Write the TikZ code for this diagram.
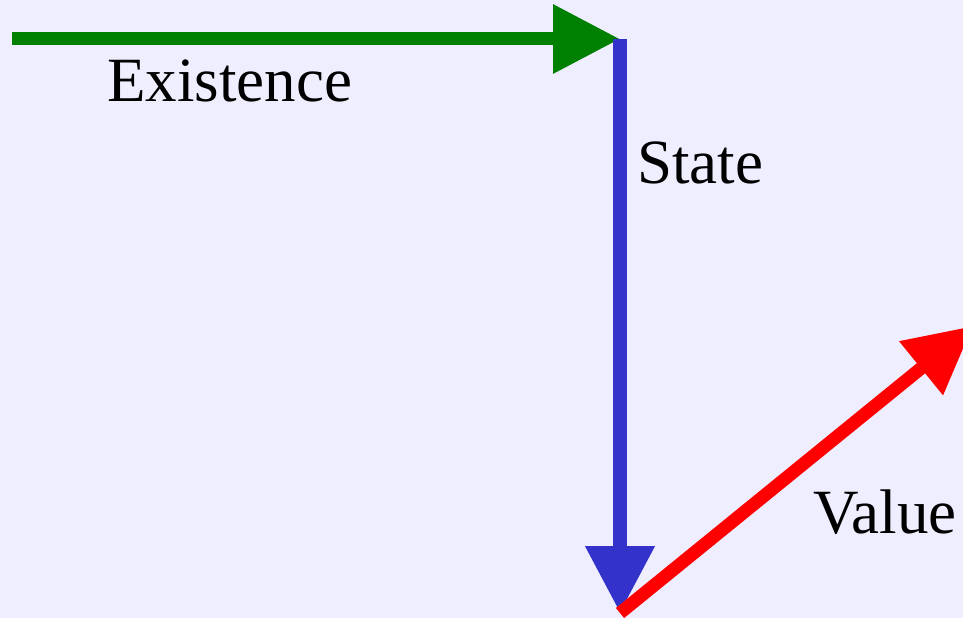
\documentclass[tikz,border=0pt]{standalone}
\usepackage{fontspec}
\setmainfont{Liberation Serif}
\usetikzlibrary{arrows.meta}

\definecolor{paper}{HTML}{EEEEFF}
\definecolor{existgreen}{HTML}{008000}
\definecolor{stateblue}{HTML}{3333CC}
\definecolor{valuered}{HTML}{FF0000}

\tikzset{
    axis/.style={line width=13pt, line cap=butt, -{Triangle[length=67pt, width=66pt]}},
    lbl/.style={anchor=base west, inner sep=0pt, font=\fontsize{63}{75}\selectfont}
}

\begin{document}
\begin{tikzpicture}[x=1pt, y=-1pt]
    % Canvas
    \useasboundingbox (0,0) rectangle (963,618);
    \fill[paper] (0,0) rectangle (963,618);
    \clip (0,0) rectangle (963,618);

    % Corner points of the path
    \coordinate (start) at (12,39);
    \coordinate (corner) at (620,39);
    \coordinate (bottom) at (620,613);
    \coordinate (tip) at (973,326);

    % Existence -> State -> Value
    \draw[axis, existgreen] (start) -- (corner);
    \draw[axis, stateblue, line width=14pt] (corner) -- (bottom);
    \draw[axis, valuered] (bottom) -- (tip);

    % Labels
    \node[lbl] (existence) at (107,101) {Existence};
    \node[lbl] (state) at (637,183) {State};
    \node[lbl] (value) at (813,533) {Value};
\end{tikzpicture}
\end{document}
